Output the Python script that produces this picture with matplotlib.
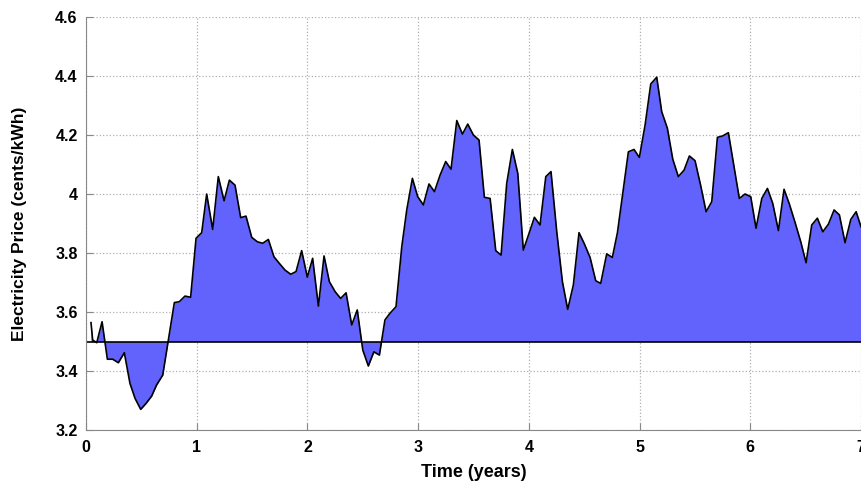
import matplotlib
matplotlib.use("Agg")
import matplotlib.pyplot as plt

plt.rcParams['font.family'] = ['Liberation Sans', 'DejaVu Sans']

# time in years and monthly-ish price (cents/kWh)
time_years = [0.045, 0.06, 0.097, 0.145, 0.193, 0.241, 0.292, 0.346, 0.397, 0.443,
              0.494, 0.542, 0.593, 0.638, 0.693, 0.744, 0.798, 0.843, 0.894, 0.945,
              0.994, 1.045, 1.09, 1.144, 1.195, 1.247, 1.295, 1.346, 1.397, 1.445,
              1.497, 1.548, 1.596, 1.647, 1.698, 1.746, 1.798, 1.849, 1.897, 1.948,
              1.999, 2.047, 2.099, 2.15, 2.198, 2.25, 2.3, 2.349, 2.4, 2.45,
              2.5, 2.55, 2.6, 2.65, 2.70, 2.746, 2.8, 2.852, 2.897, 2.948,
              2.996, 3.047, 3.098, 3.147, 3.198, 3.249, 3.297, 3.349, 3.4, 3.448,
              3.499, 3.55, 3.598, 3.65, 3.701, 3.749, 3.8, 3.851, 3.9, 3.95,
              4.002, 4.05, 4.101, 4.153, 4.2, 4.252, 4.303, 4.351, 4.402, 4.453,
              4.499, 4.553, 4.604, 4.649, 4.703, 4.754, 4.8, 4.848, 4.899, 4.95,
              4.998, 5.05, 5.101, 5.155, 5.2, 5.251, 5.3, 5.35, 5.402, 5.45,
              5.501, 5.553, 5.601, 5.652, 5.703, 5.751, 5.802, 5.853, 5.901, 5.953,
              6.004, 6.052, 6.104, 6.155, 6.203, 6.254, 6.305, 6.353, 6.405, 6.456,
              6.504, 6.555, 6.606, 6.655, 6.706, 6.757, 6.805, 6.856, 6.908, 6.956,
              7.0]
price = [3.564, 3.505, 3.496, 3.567, 3.44, 3.44, 3.428, 3.462, 3.358, 3.307,
         3.27, 3.29, 3.315, 3.353, 3.386, 3.505, 3.632, 3.635, 3.654, 3.65,
         3.85, 3.869, 4.0, 3.88, 4.059, 3.977, 4.047, 4.03, 3.92, 3.925,
         3.853, 3.838, 3.833, 3.846, 3.787, 3.765, 3.742, 3.728, 3.737, 3.808,
         3.718, 3.782, 3.62, 3.79, 3.703, 3.669, 3.646, 3.665, 3.556, 3.607,
         3.471, 3.417, 3.465, 3.454, 3.573, 3.596, 3.618, 3.821, 3.946, 4.053,
         3.991, 3.963, 4.034, 4.008, 4.064, 4.11, 4.084, 4.249, 4.203, 4.237,
         4.2, 4.183, 3.989, 3.985, 3.808, 3.793, 4.036, 4.151, 4.07, 3.81,
         3.867, 3.921, 3.895, 4.059, 4.076, 3.872, 3.703, 3.609, 3.692, 3.869,
         3.833, 3.785, 3.706, 3.697, 3.797, 3.785, 3.869, 4.002, 4.143, 4.151,
         4.124, 4.234, 4.373, 4.396, 4.279, 4.223, 4.118, 4.059, 4.081, 4.129,
         4.113, 4.027, 3.94, 3.974, 4.192, 4.197, 4.208, 4.093, 3.985, 4.0,
         3.991, 3.884, 3.985, 4.019, 3.968, 3.876, 4.016, 3.966, 3.903, 3.838,
         3.767, 3.895, 3.918, 3.872, 3.898, 3.946, 3.929, 3.835, 3.914, 3.94,
         3.889]
baseline = 3.5

x_ticks = [0, 1, 2, 3, 4, 5, 6, 7]
y_ticks = [3.2, 3.4, 3.6, 3.8, 4.0, 4.2, 4.4, 4.6]
y_tick_labels = ['3.2', '3.4', '3.6', '3.8', '4', '4.2', '4.4', '4.6']

fig = plt.figure(figsize=(8.61, 4.86), dpi=100)
ax = fig.add_axes([0.0999, 0.1152, 0.9001, 0.8498])

ax.fill_between(time_years, price, baseline, color='#6262fc', linewidth=0)
ax.plot(time_years, price, color='black', linewidth=1.2)
ax.axhline(baseline, color='black', linewidth=1.2)

ax.set_xlim(0, 7)
ax.set_ylim(3.2, 4.6)
ax.set_xticks(x_ticks)
ax.set_yticks(y_ticks)
ax.set_yticklabels(y_tick_labels)
ax.grid(True, linestyle=':', color='#b0b0b0', linewidth=0.9)
ax.set_axisbelow(True)

for side in ['top', 'right']:
    ax.spines[side].set_visible(False)
for side in ['left', 'bottom']:
    ax.spines[side].set_color('#888888')
ax.tick_params(direction='in', length=5, color='#888888', labelsize=11.5)
ax.tick_params(axis='y', pad=6)
ax.tick_params(axis='x', pad=7)
for lbl in ax.get_xticklabels() + ax.get_yticklabels():
    lbl.set_fontweight('bold')

ax.set_xlabel('Time (years)', fontsize=13, fontweight='bold', labelpad=7)
ax.set_ylabel('Electricity Price (cents/kWh)', fontsize=12.5, fontweight='bold')
ax.yaxis.set_label_coords(-0.076, 0.5)

fig.savefig('out.png', dpi=100)
